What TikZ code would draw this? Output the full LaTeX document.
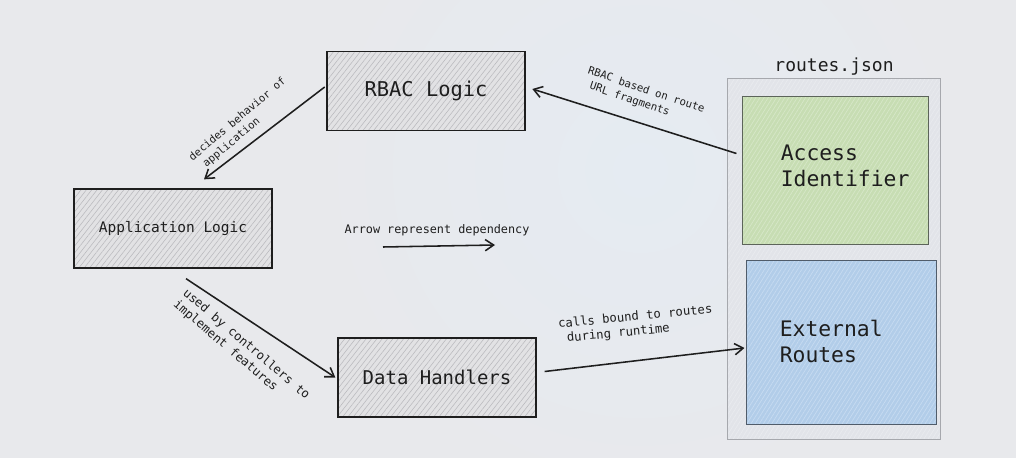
\documentclass[tikz,border=0pt]{standalone}
\usepackage{fontspec}
\setmonofont{DejaVu Sans Mono}
\usepackage{xcolor}
\usepackage{tikz}
\usetikzlibrary{arrows.meta,calc,patterns.meta}
\definecolor{bgcol}{RGB}{232,233,236}
\definecolor{haze}{RGB}{229,235,242}
\definecolor{ink}{RGB}{30,30,30}
\definecolor{boxfill}{RGB}{226,226,228}
\definecolor{hatch}{RGB}{186,186,190}
\definecolor{routefill}{RGB}{226,228,233}
\definecolor{routeline}{RGB}{166,168,173}
\definecolor{routehatch}{RGB}{233,235,239}
\definecolor{accessfill}{RGB}{199,221,179}
\definecolor{accessline}{RGB}{92,100,90}
\definecolor{accesshatch}{RGB}{214,231,199}
\definecolor{extfill}{RGB}{178,205,233}
\definecolor{extline}{RGB}{80,92,106}
\definecolor{exthatch}{RGB}{198,219,241}
\tikzset{
	block/.style={
			draw=ink, line width=0.9pt, preaction={fill=boxfill}, inner sep=0pt,
			minimum width=4.95cm, minimum height=1.975cm,
			pattern={Lines[angle=52,distance=3pt,line width=0.4pt]}, pattern color=hatch
		},
	region/.style={
			draw=#1line, line width=0.7pt, preaction={fill=#1fill}, inner sep=0pt,
			pattern={Lines[angle=58,distance=2.5pt,line width=0.5pt]}, pattern color=#1hatch
		},
	dep/.style={->, line width=1.1pt, draw=ink},
	lbl/.style={text=ink, align=left, inner sep=0pt, font=\ttfamily\fontsize{8.7}{10.5}\selectfont},
	smalllbl/.style={lbl, font=\ttfamily\fontsize{7.6}{9.8}\selectfont}
}

\begin{document}
\begin{tikzpicture}[x=0.025cm, y=-0.025cm, >={Straight Barb[length=6pt,width=8pt]}]
			% Background
			\useasboundingbox[fill=bgcol] (0,0) rectangle (1016,458);
			\clip (0,0) rectangle (1016,458);
			\shade[inner color=haze, outer color=bgcol] (640,170) circle (330);

			% Draw the logic boxes
			\node[block, font=\ttfamily\fontsize{14.5}{17}\selectfont, text=ink] (rbac) at (426,91) {RBAC Logic};
			\node[block, font=\ttfamily\fontsize{10.3}{12}\selectfont, text=ink] (app) at (173,228.5) {Application Logic};
			\node[block, font=\ttfamily\fontsize{13.5}{16}\selectfont, text=ink] (data) at (437,377.5) {Data Handlers};

			% Draw routes.json and its parts
			\node[region=route, minimum width=5.3cm, minimum height=9cm] (routes) at (834,259) {};
			\node[text=ink, font=\ttfamily\fontsize{12.8}{15}\selectfont] (routesname) at ($(routes.north)+(0,-12)$) {routes.json};
			\node[region=access, minimum width=4.625cm, minimum height=3.675cm] (access) at (835.5,170.5) {};
			\node[region=ext, minimum width=4.725cm, minimum height=4.075cm] (ext) at (841.5,342.5) {};
			\node[anchor=west, align=left, inner sep=0pt, text=ink, font=\ttfamily\fontsize{15.2}{18.5}\selectfont] (accesstext) at ($(access.west)+(38,-5)$) {Access\\Identifier};
			\node[anchor=west, align=left, inner sep=0pt, text=ink, font=\ttfamily\fontsize{15.2}{19}\selectfont] (exttext) at ($(ext.west)+(33,-1)$) {External\\Routes};

			% Draw the dependencies
			\draw[dep] ($(rbac.west)+(-2,-4)$) -- ($(app.north)+(31,-9)$);
			\draw[dep] ($(access.west)+(-6,-17)$) -- ($(rbac.east)+(7,-2)$);
			\draw[dep] ($(app.south)+(13,10)$) -- ($(data.west)+(-2,0)$);
			\draw[dep] ($(data.east)+(8,-6)$) -- ($(ext.west)+(-2,5.5)$);

			% Label the dependencies
			\node[smalllbl, rotate=40] (decideslbl) at (242,125) {decides behavior of\\~application};
			\node[smalllbl, rotate=-18.5] (rbaclbl) at (644,97) {RBAC based on route\\~URL fragments};
			\node[lbl, rotate=-40.5] (usedlbl) at (241.5,350) {used by controllers to\\implement features};
			\node[lbl, rotate=5.5] (callslbl) at (636,324.5) {calls bound to routes\\~during runtime};

			% Legend
			\node[lbl, font=\ttfamily\fontsize{8.4}{10}\selectfont] (legend) at (437,230) {Arrow represent dependency};
			\draw[dep] ($(legend)+(-54,17)$) -- ($(legend)+(58,15)$);
		\end{tikzpicture}
\end{document}
